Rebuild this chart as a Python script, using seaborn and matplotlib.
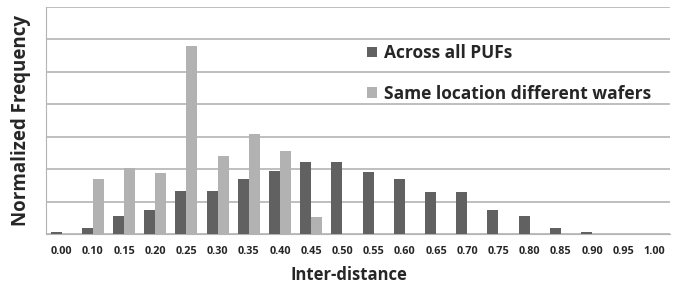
import pandas as pd
import seaborn as sns
import matplotlib.pyplot as plt
from matplotlib.patches import Patch

# ---------------------------------------------------------------------------
# Data (in gridline units)
# ---------------------------------------------------------------------------
distances = ["0.00", "0.10", "0.15", "0.20", "0.25", "0.30", "0.35", "0.40", "0.45", "0.50",
             "0.55", "0.60", "0.65", "0.70", "0.75", "0.80", "0.85", "0.90", "0.95", "1.00"]
across_all = [0.06, 0.18, 0.54, 0.74, 1.32, 1.32, 1.70, 1.94, 2.22, 2.21,
              1.91, 1.69, 1.31, 1.29, 0.74, 0.55, 0.19, 0.07, 0.0, 0.0]
same_location = [0.0, 1.70, 2.05, 1.88, 5.80, 2.40, 3.07, 2.56, 0.51, 0.0,
                 0.0, 0.0, 0.0, 0.0, 0.0, 0.0, 0.0, 0.0, 0.0, 0.0]
series_names = ["Across all PUFs", "Same location different wafers"]
colors = ["#616161", "#b2b2b2"]

df = pd.DataFrame({
    "distance": distances * 2,
    "freq": across_all + same_location,
    "series": [series_names[0]] * len(distances) + [series_names[1]] * len(distances),
})

sns.set_style("white")
plt.rcParams["font.family"] = ["Open Sans", "DejaVu Sans"]

fig = plt.figure(figsize=(6.91, 2.87), dpi=100)
ax = fig.add_axes([0.0666, 0.1847, 0.903, 0.791])

sns.barplot(data=df, x="distance", y="freq", hue="series", palette=colors,
            saturation=1, width=0.7, linewidth=0, ax=ax, legend=False, zorder=3)

ax.set_ylim(0, 7)
ax.set_xlim(-0.5, len(distances) - 0.5)
ax.set_yticks(range(0, 8))
ax.set_yticklabels([])
ax.tick_params(axis="y", length=0)
ax.tick_params(axis="x", length=0, pad=9)
for lbl in ax.get_xticklabels():
    lbl.set_fontsize(7.8)
    lbl.set_fontweight("bold")
ax.yaxis.grid(True, color="#b4b4b4", linewidth=1.2, zorder=0)
ax.set_axisbelow(True)
for side in ["top", "right"]:
    ax.spines[side].set_visible(False)
ax.spines["left"].set_color("#b4b4b4")
ax.spines["bottom"].set_color("#b4b4b4")

ax.set_xlabel("Inter-distance", fontsize=12, fontweight="bold", labelpad=4)
ax.xaxis.set_label_coords(0.485, -0.14)
ax.set_ylabel("Normalized Frequency", fontsize=13.5, fontweight="bold", labelpad=7)

handles = [Patch(facecolor=c, edgecolor="none") for c in colors]
ax.legend(handles, series_names, loc="upper left", bbox_to_anchor=(0.49, 0.905),
          frameon=False, prop={"weight": "bold", "size": 12.5},
          handlelength=0.55, handleheight=0.55, handletextpad=0.4, labelspacing=1.3)

fig.savefig("out.png", dpi=100)
